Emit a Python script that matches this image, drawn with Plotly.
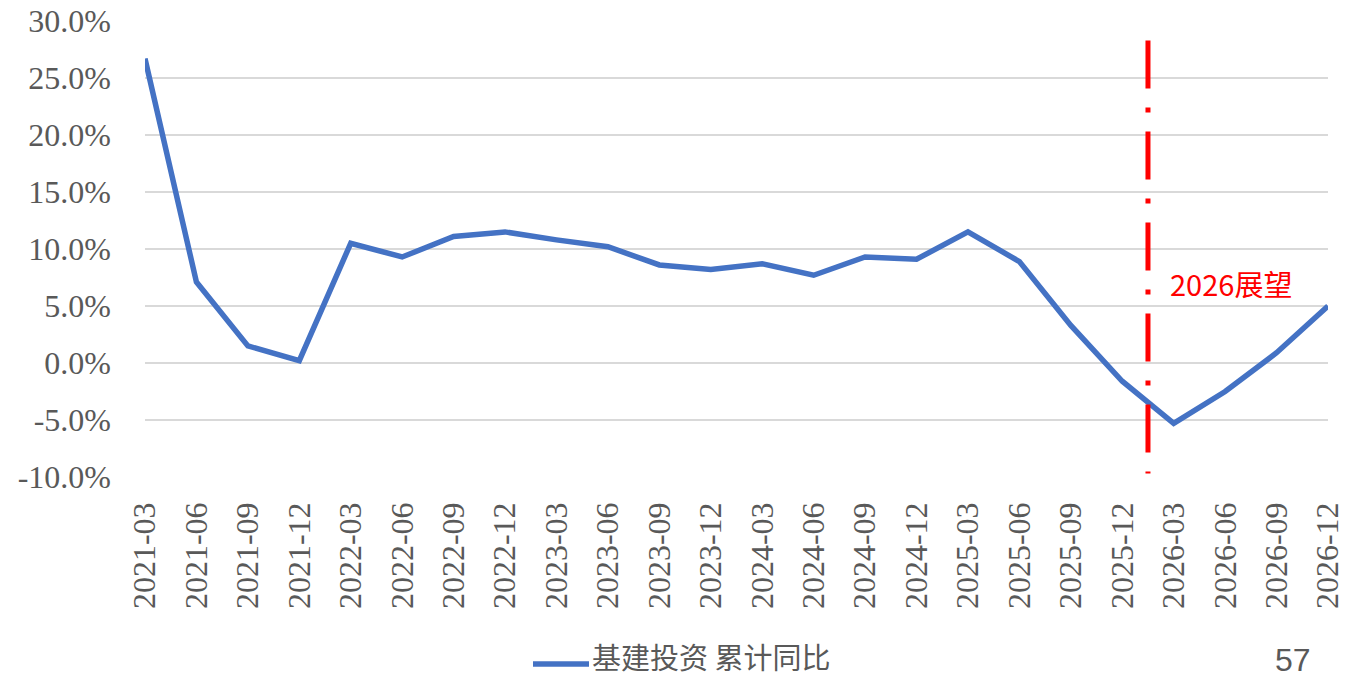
import plotly.graph_objects as go

# Quarterly periods (cumulative year-on-year growth of infrastructure investment)
periods = [
    "2021-03", "2021-06", "2021-09", "2021-12",
    "2022-03", "2022-06", "2022-09", "2022-12",
    "2023-03", "2023-06", "2023-09", "2023-12",
    "2024-03", "2024-06", "2024-09", "2024-12",
    "2025-03", "2025-06", "2025-09", "2025-12",
    "2026-03", "2026-06", "2026-09", "2026-12",
]
growth = [
    26.7, 7.1, 1.5, 0.2,
    10.5, 9.3, 11.1, 11.5,
    10.8, 10.2, 8.6, 8.2,
    8.7, 7.7, 9.3, 9.1,
    11.5, 8.9, 3.3, -1.6,
    -5.3, -2.5, 0.9, 5.0,
]
series_name = "基建投资 累计同比"
y_ticks = [-10, -5, 0, 5, 10, 15, 20, 25, 30]
y_tick_text = [f"{v:.1f}%" for v in y_ticks]
outlook_label = "2026展望"
page_number = "57"

x_idx = list(range(len(periods)))

# Plot-area geometry in pixels
W, H = 1355, 680
L, R, T, B = 145, 27, 21, 203
PW, PH = W - L - R, H - T - B
LINE_COLOR = "#4472C4"


def px_to_paper(px, py):
    return (px - L) / PW, (H - B - py) / PH


tick_font = dict(family="Liberation Serif, DejaVu Serif, serif", size=32, color="#595959")

fig = go.Figure()
fig.add_trace(go.Scatter(
    x=x_idx, y=growth, mode="lines", name=series_name,
    line=dict(color=LINE_COLOR, width=5.5), showlegend=False,
))

# Divider between actual data and outlook (pattern runs from the top down)
fig.add_shape(
    type="line", xref="x", yref="y",
    x0=19.5, x1=19.5, y0=28.3, y1=-9.7,
    line=dict(color="#FF0000", width=5, dash="48px,19px,5px,19px"),
)
fig.add_annotation(
    x=19.88, y=7.0, xref="x", yref="y", text=outlook_label,
    showarrow=False, xanchor="left", yanchor="middle",
    font=dict(family="Noto Sans CJK SC, serif", size=29, color="#FF0000"),
)

# Legend: line sample plus series name below the axis labels
sx0, sy = px_to_paper(533, 664)
sx1, _ = px_to_paper(589, 664)
fig.add_shape(
    type="line", xref="paper", yref="paper",
    x0=sx0, x1=sx1, y0=sy, y1=sy,
    line=dict(color=LINE_COLOR, width=5.5),
)
tx, ty = px_to_paper(591, 678)
fig.add_annotation(
    x=tx, y=ty, xref="paper", yref="paper", text=series_name,
    showarrow=False, xanchor="left", yanchor="bottom", borderpad=0,
    font=dict(family="Noto Sans CJK SC, sans-serif", size=29, color="#595959"),
)

pnx, pny = px_to_paper(1293, 679)
fig.add_annotation(
    x=pnx, y=pny, xref="paper", yref="paper", text=page_number,
    showarrow=False, xanchor="center", yanchor="bottom", borderpad=0,
    font=dict(family="Liberation Sans Narrow, Liberation Sans, sans-serif", size=32, color="#595959"),
)

fig.update_layout(
    width=W, height=H,
    margin=dict(l=L, r=R, t=T, b=B, autoexpand=False),
    paper_bgcolor="white", plot_bgcolor="white",
    showlegend=False,
    xaxis=dict(
        range=[0, len(periods) - 1],
        tickmode="array", tickvals=x_idx, ticktext=periods,
        tickangle=-90, tickfont=tick_font,
        showgrid=False, zeroline=False, showline=False,
        ticks="", ticklabelstandoff=18, automargin=False,
    ),
    yaxis=dict(
        range=[-10, 30],
        tickmode="array", tickvals=y_ticks, ticktext=y_tick_text,
        tickfont=tick_font,
        showgrid=True, gridcolor="#D9D9D9", gridwidth=2,
        zeroline=False, showline=False, ticks="", ticklabelstandoff=33,
        automargin=False,
    ),
)

fig.write_html("out.html")
